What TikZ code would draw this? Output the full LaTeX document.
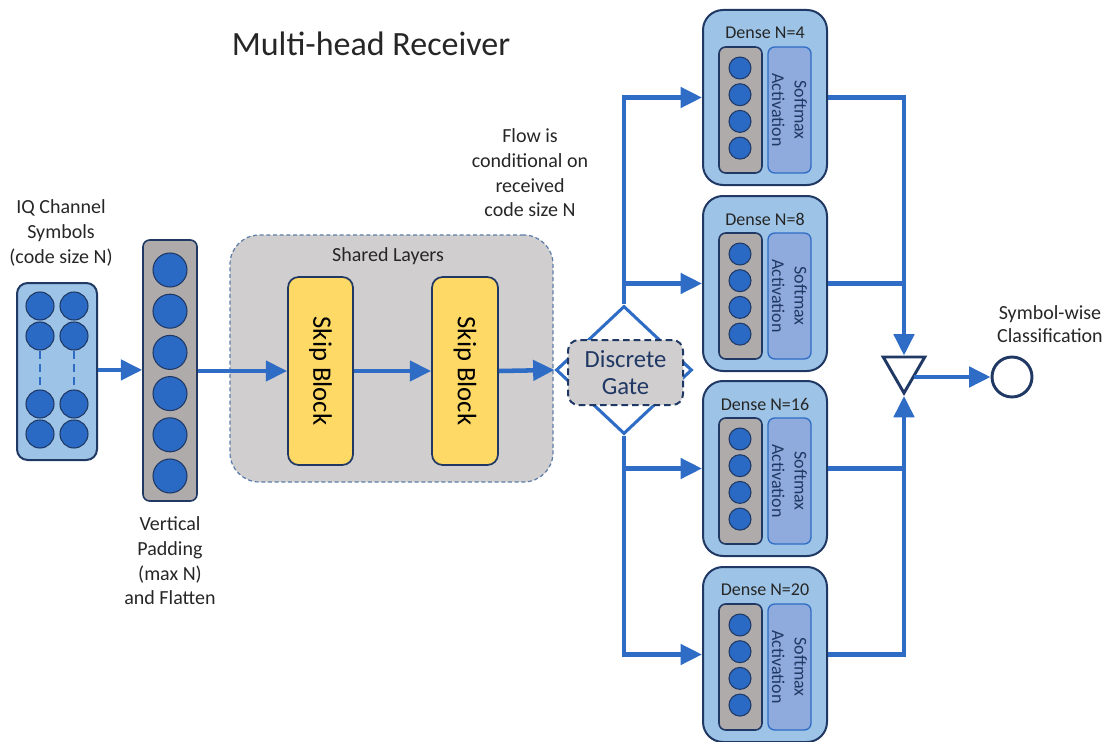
\documentclass[tikz,border=0pt]{standalone}
\usepackage{fontspec}
\setmainfont{Carlito}
\usetikzlibrary{arrows.meta,fit,shapes.geometric,calc}

\definecolor{navy}{RGB}{32,56,100}
\definecolor{flowblue}{RGB}{46,108,198}
\definecolor{unitblue}{RGB}{43,106,196}
\definecolor{lightblue}{RGB}{157,195,230}
\definecolor{softblue}{RGB}{143,170,220}
\definecolor{padgrey}{RGB}{175,171,171}
\definecolor{sharedgrey}{RGB}{208,206,206}
\definecolor{skipyellow}{RGB}{255,217,102}
\definecolor{ink}{RGB}{38,38,38}
\definecolor{dashblue}{RGB}{91,124,168}

\begin{document}
\begin{tikzpicture}[x=0.75pt,y=-0.75pt,
  every node/.style={text=ink},
  holder/.style={draw=navy, line width=1.5pt, fill=lightblue, rounded corners=8pt, inner sep=0pt},
  dense/.style={draw=navy, line width=1.5pt, fill=lightblue, rounded corners=15pt, inner sep=0pt},
  padbox/.style={draw=navy, line width=1.2pt, fill=padgrey, rounded corners=5pt, inner sep=0pt},
  softbox/.style={draw=flowblue, line width=1pt, fill=softblue, rounded corners=5pt, inner sep=0pt},
  skipbox/.style={draw=navy, line width=1.3pt, fill=skipyellow, rounded corners=8pt, inner sep=0pt},
  shared/.style={draw=dashblue, line width=0.9pt, dash pattern=on 3pt off 2pt, fill=sharedgrey, rounded corners=22pt, inner sep=0pt},
  gatebox/.style={draw=navy, line width=1.5pt, dash pattern=on 5pt off 3pt, fill=sharedgrey, rounded corners=8pt, inner sep=0pt},
  neuron/.style={circle, draw=navy, line width=0.8pt, fill=unitblue, minimum size=#1, inner sep=0pt},
  flow/.style={draw=flowblue, line width=3.4pt, -{Triangle[length=16pt,width=15pt]}},
  feed/.style={draw=flowblue, line width=3.4pt},
  label/.style={align=center, font=\fontsize{15}{18.5}\selectfont},
  gap/.style={draw=flowblue, line width=1.1pt, dash pattern=on 6pt off 4pt}
]
\useasboundingbox (0,0) rectangle (1108,742);
\clip (0,0) rectangle (1108,742);

% title
\node[font=\fontsize{25.5}{29}\selectfont] (title) at (371,44) {Multi-head Receiver};

% input symbols
\node[label] (iqlab) at (61,233) {IQ Channel\\Symbols\\(code size N)};
\node[holder, fit={(17,283)(97,460)}] (iq) {};
\foreach \r/\y in {1/306,2/336,3/404,4/434}{
  \node[neuron=21pt] (qa\r) at (40,\y) {};
  \node[neuron=21pt] (qb\r) at (74,\y) {};
}
\draw[gap] (qa2.south) -- (qa3.north);
\draw[gap] (qb2.south) -- (qb3.north);

% padded and flattened vector
\node[padbox, fit={(143,240)(197,501)}] (pad) {};
\foreach \k in {0,...,5}
  \node[neuron=25.5pt] (p\k) at (170,270+41.2*\k) {};
\node[label] (padlab) at (170,561) {Vertical\\Padding\\(max N)\\and Flatten};

% shared layers
\node[shared, fit={(230,235)(553,482)}] (sh) {};
\node[font=\fontsize{15}{18}\selectfont] (shlab) at (388,256) {Shared Layers};
\node[skipbox, fit={(288,277)(353,465)}] (sk1) {};
\node[skipbox, fit={(432,277)(498,465)}] (sk2) {};
\node[rotate=-90, font=\fontsize{20}{22}\selectfont, text=black] (sk1t) at (sk1.center) {Skip Block};
\node[rotate=-90, font=\fontsize{20}{22}\selectfont, text=black] (sk2t) at (sk2.center) {Skip Block};

% gate
\node[diamond, draw=flowblue, line width=2.3pt, fill=white, minimum width=102pt, minimum height=96pt, inner sep=0pt] (gd) at (624,370) {};
\node[gatebox, fit={(568,340)(683,405)}] (gate) {};
\node[align=center, text=navy, font=\fontsize{18.5}{20.5}\selectfont] (gatet) at (gate.center) {Discrete\\Gate};
\node[label] (flowlab) at (530,173) {Flow is\\conditional on\\received\\code size N};

% output heads
\foreach \nm/\t/\lab in {d4/10/4, d8/196/8, d16/381/16, d20/567/20}{
  \node[dense, fit={(703,\t)(827,\t+175)}] (\nm) {};
  \node[font=\fontsize{13.5}{15}\selectfont] (\nm t) at (765,\t+23) {Dense N=\lab};
  \node[padbox, fit={(719,\t+37)(762,\t+163)}] (\nm g) {};
  \foreach \k in {0,...,3}
    \node[neuron=16.5pt] (\nm c\k) at (740,\t+58+26.7*\k) {};
  \node[softbox, fit={(768,\t+37)(811,\t+163)}] (\nm s) {};
  \node[rotate=-90, align=center, text=navy, font=\fontsize{13.5}{17}\selectfont] (\nm a) at (\nm s.center) {Softmax\\Activation};
}

% combiner and output
\node[regular polygon, regular polygon sides=3, shape border rotate=180, draw=navy, line width=2.2pt, fill=white, minimum size=36pt, inner sep=0pt] (tri) at (904,369) {};
\node[circle, draw=navy, line width=2.2pt, fill=white, minimum size=30pt, inner sep=0pt] (cls) at (1012,377) {};
\node[align=center, font=\fontsize{15}{17.5}\selectfont] (clslab) at (1050,324) {Symbol-wise\\Classification};

% connectors
\draw[flow] (iq.east |- p2.south) -- (pad.west |- p2.south);
\draw[flow] (pad.east |- sk1.center) -- (sk1.west);
\draw[flow] (sk1.east) -- (sk2.west);
\draw[flow] (sk2.east) -- (gd.west);

\draw[flow] (gd.north) |- (d4.west);
\draw[flow] (gd.north |- d8.west) -- (d8.west);
\draw[flow] (gd.south) |- (d20.west);
\draw[flow] (gd.south |- d16.west) -- (d16.west);

\draw[flow] (d4.east) -| (tri.north);
\draw[feed] (d8.east) -- (d8.east -| tri.north);
\draw[feed] (d16.east) -- (d16.east -| tri.north);
\draw[flow] (d20.east) -| (tri.south);
\draw[flow] ([xshift=-4pt]tri.east |- cls.center) -- (cls.west);
\end{tikzpicture}
\end{document}
